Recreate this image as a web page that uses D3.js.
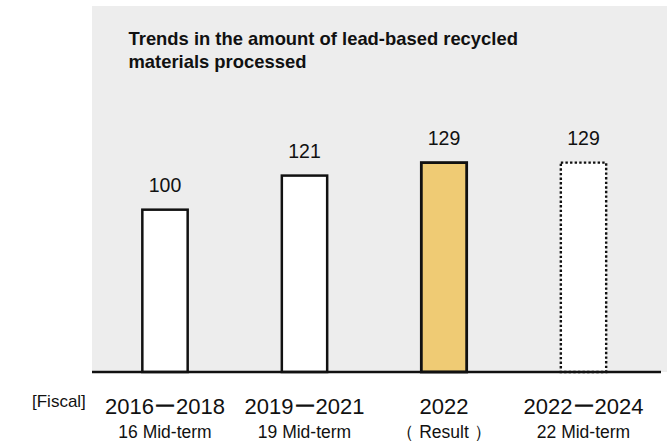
<!DOCTYPE html>
<html>
<head>
<meta charset="utf-8">
<script src="https://cdn.jsdelivr.net/npm/d3@7"></script>
<style>
  html, body { margin: 0; padding: 0; background: #ffffff; }
  svg { display: block; font-family: "Liberation Sans", Arial, "Noto Sans CJK JP", sans-serif; }
</style>
</head>
<body>
<svg id="chart" width="667" height="446"></svg>
<script>
// Lead-based recycled materials processed (index, FY2016-2018 = 100)
const periods = ["2016ー2018", "2019ー2021", "2022", "2022ー2024"];
const planLabels = ["16 Mid-term", "19 Mid-term", "（ Result ）", "22 Mid-term"];
const amounts = [100, 121, 129, 129];
const barKinds = ["period", "period", "result", "target"];
const titleLines = ["Trends in the amount of lead-based recycled", "materials processed"];
const fiscalLabel = "[Fiscal]";

const svg = d3.select("#chart");

const panel = { left: 92, top: 6, right: 667, bottom: 372 };

// background panel
svg.append("rect")
  .attr("x", panel.left).attr("y", panel.top)
  .attr("width", panel.right - panel.left)
  .attr("height", panel.bottom - panel.top)
  .attr("fill", "#ededed");

// title
const title = svg.append("text")
  .attr("x", 128.5).attr("y", 44.5)
  .attr("font-size", 18.4).attr("font-weight", "bold").attr("fill", "#111");
titleLines.forEach((t, i) => {
  title.append("tspan").attr("x", 128.5).attr("dy", i === 0 ? 0 : 23).text(t);
});

// scales
const x = d3.scaleBand()
  .domain(periods)
  .range([95.25, 653.25])
  .paddingInner(0.675)
  .paddingOuter(0.3375);

const y = d3.scaleLinear()
  .domain([0, 129])
  .range([panel.bottom, 162.6]);

const styleFor = {
  period: { fill: "#ffffff", dash: null, width: 2.5 },
  result: { fill: "#efcb74", dash: null, width: 2.8 },
  target: { fill: "#ffffff", dash: "2.4 2.2", width: 2.4 }
};

const rows = periods.map((p, i) => ({ period: p, value: amounts[i], kind: barKinds[i] }));

// bars
svg.append("g").selectAll("rect")
  .data(rows)
  .join("rect")
  .attr("x", d => x(d.period))
  .attr("y", d => y(d.value))
  .attr("width", x.bandwidth())
  .attr("height", d => y(0) - y(d.value))
  .attr("fill", d => styleFor[d.kind].fill)
  .attr("stroke", "#111")
  .attr("stroke-width", d => styleFor[d.kind].width)
  .attr("stroke-dasharray", d => styleFor[d.kind].dash);

// value labels
svg.append("g").selectAll("text")
  .data(rows)
  .join("text")
  .attr("x", d => x(d.period) + x.bandwidth() / 2)
  .attr("y", d => y(d.value) - 17.5)
  .attr("text-anchor", "middle")
  .attr("font-size", 19.5)
  .attr("fill", "#111")
  .text(d => d.value);

// baseline
svg.append("line")
  .attr("x1", 92).attr("x2", 661)
  .attr("y1", y(0)).attr("y2", y(0))
  .attr("stroke", "#111").attr("stroke-width", 2.5);

// category axis: period on the first line, plan name below
const axis = svg.append("g")
  .attr("transform", `translate(0,${panel.bottom})`)
  .call(d3.axisBottom(x).tickSize(0).tickPadding(0));
axis.select(".domain").remove();
axis.selectAll(".tick text")
  .attr("font-family", null)
  .attr("font-size", 22)
  .attr("fill", "#111")
  .attr("dy", null)
  .attr("y", 42);
axis.selectAll(".tick")
  .append("text")
  .attr("text-anchor", "middle")
  .attr("font-size", 17.5)
  .attr("fill", "#111")
  .attr("y", 66)
  .text((d, i) => planLabels[i]);

// fiscal marker
svg.append("text")
  .attr("x", 32).attr("y", 407)
  .attr("font-size", 17)
  .attr("fill", "#111")
  .text(fiscalLabel);
</script>
</body>
</html>
